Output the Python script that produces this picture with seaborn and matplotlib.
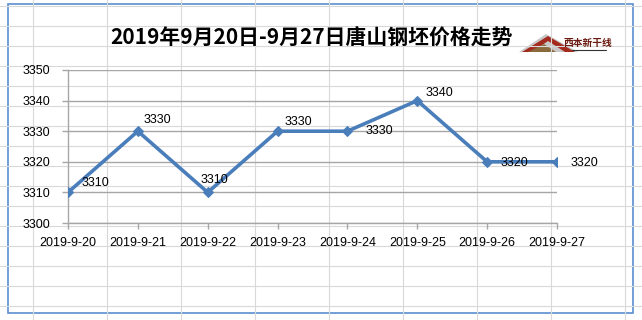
import matplotlib
matplotlib.use("Agg")
import matplotlib.pyplot as plt
from matplotlib.patches import Rectangle, Polygon
import seaborn as sns
import pandas as pd

# ---- data ----
dates = ["2019-9-20", "2019-9-21", "2019-9-22", "2019-9-23",
         "2019-9-24", "2019-9-25", "2019-9-26", "2019-9-27"]
prices = [3310, 3330, 3310, 3330, 3330, 3340, 3320, 3320]
yticks = [3300, 3310, 3320, 3330, 3340, 3350]
title = "2019年9月20日-9月27日唐山钢坯价格走势"
logo_text = "西本新干线"

# label offsets in pixels (style only)
label_offsets = [(14, 9), (6, 11), (-7, 12), (7, 9), (18, 0), (8, 8), (13, -1), (14, -1)]

sns.set_theme(style="white")
plt.rcParams["font.family"] = ["Liberation Sans", "Noto Sans CJK SC", "DejaVu Sans"]

W, H = 642, 320
fig = plt.figure(figsize=(W / 100, H / 100), dpi=100)

# background: spreadsheet grid + chart frame
bg = fig.add_axes([0, 0, 1, 1], zorder=0)
bg.set_xlim(0, W)
bg.set_ylim(H, 0)
bg.axis("off")
for x in range(33, W, 74):
    bg.plot([x, x], [0, H], color="#d9d9d9", lw=0.8)
for y in range(6, H, 20):
    bg.plot([0, W], [y, y], color="#d9d9d9", lw=0.8)
bg.add_patch(Rectangle((8, 4), 625, 309, facecolor="white", edgecolor="#5b8fd0", lw=1.2))

# logo
bg.add_patch(Polygon([(519, 52), (546, 34), (578, 52)], closed=True, facecolor="#c8c8c8", edgecolor="none"))
bg.add_patch(Polygon([(522, 52), (548, 36), (575, 52), (565, 52), (548, 41), (532, 52)], closed=True,
                     facecolor="#a52a1e", edgecolor="none"))
bg.add_patch(Polygon([(528, 52), (544, 44), (556, 52)], closed=True, facecolor="#8b6a3e", edgecolor="none"))
bg.text(588, 43, logo_text, fontsize=7, fontweight="bold", color="#6a1a10",
        ha="center", va="center", family=["Noto Sans CJK SC", "DejaVu Sans"])
bg.plot([572, 606], [50, 50], color="#333333", lw=0.8)

# title
bg.text(312, 38, title, fontsize=15, fontweight="bold", color="#000000",
        ha="center", va="center", family=["Noto Sans CJK SC", "DejaVu Sans"])

# main axes
left, right, top, bottom = 68, 557, 70, 223
ax = fig.add_axes([left / W, 1 - bottom / H, (right - left) / W, (bottom - top) / H], zorder=2)
ax.patch.set_alpha(0)

df = pd.DataFrame({"date": dates, "price": prices})
sns.lineplot(data=df, x="date", y="price", sort=False, ax=ax, color="#4a7ebb",
             lw=2.6, marker="D", markersize=5.5, markeredgecolor="#4a7ebb", zorder=3)

ax.set_xlim(0, len(dates) - 1)
ax.set_ylim(yticks[0], yticks[-1])
ax.set_yticks(yticks)
ax.set_xticks(range(len(dates)))
ax.set_xticklabels(dates)
ax.set_xlabel("")
ax.set_ylabel("")
ax.grid(axis="y", color="#a6a6a6", lw=1)
ax.set_axisbelow(True)
for s in ["top", "right"]:
    ax.spines[s].set_visible(False)
for s in ["left", "bottom"]:
    ax.spines[s].set_color("#a6a6a6")
    ax.spines[s].set_linewidth(1)
ax.tick_params(axis="both", which="major", length=4, width=1, color="#a6a6a6",
               labelsize=9, labelcolor="#000000", direction="out", left=True, bottom=True)
ax.tick_params(axis="x", pad=6)
ax.tick_params(axis="y", pad=9)

for i, (d, p) in enumerate(zip(dates, prices)):
    dx, dy = label_offsets[i]
    ax.annotate(str(p), (i, p), xytext=(dx, dy), textcoords="offset pixels",
                ha="left", va="center", fontsize=9, color="#000000", annotation_clip=False)

fig.savefig("out.png", dpi=100)
